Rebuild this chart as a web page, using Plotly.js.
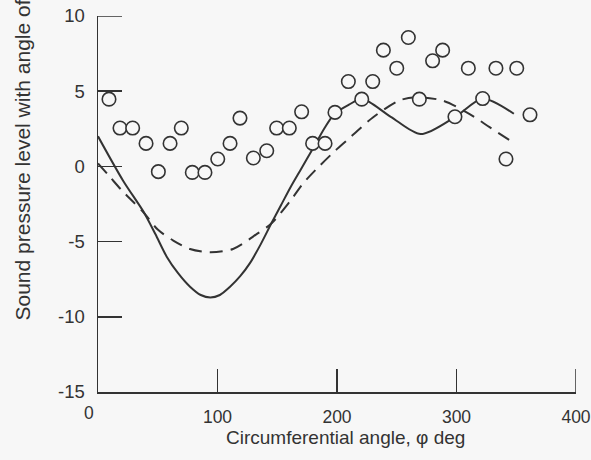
<!DOCTYPE html>
<html><head><meta charset="utf-8">
<script src="https://cdn.plot.ly/plotly-3.0.1.min.js"></script>
<style>html,body{margin:0;padding:0;background:#f7f7f7}</style>
</head><body>
<div id="chart" style="width:591px;height:460px"></div>
<script>
// Measured circles (data)
const circleX = [9.2,18.4,29.0,40.2,50.5,60.3,69.7,78.9,89.5,100.2,110.5,118.8,130,141.2,149.5,160.1,170.4,179.6,190,198.3,209.5,220.7,229.9,238.8,250,259.7,268.9,280,288.4,298.7,309.9,321.9,333,341.4,350.4,361.5];
const circleY = [4.47,2.55,2.55,1.53,-0.35,1.53,2.55,-0.4,-0.4,0.49,1.53,3.21,0.56,1.04,2.55,2.55,3.63,1.53,1.53,3.59,5.64,4.47,5.64,7.73,6.53,8.57,4.47,7.02,7.73,3.3,6.53,4.51,6.53,0.49,6.53,3.43];
// Solid curve
const solidX = [0,21,38,48,57.5,67,77,86,94,102,110.5,119,127,136,145,153,161,169,180,190,198,210,221,245,270,299,322,348];
const solidY = [2.0,-0.95,-3.0,-4.5,-6.0,-7.1,-8.0,-8.55,-8.72,-8.55,-8.0,-7.3,-6.45,-5.2,-3.8,-2.6,-1.4,-0.3,1.2,2.6,3.5,4.1,4.5,3.3,2.15,3.3,4.5,3.5];
// Dashed curve
const dashX = [0,10,20,30,38,50,63,77,94,113,133,145,161,172,185,197,208,230,253,269,289,311,328,345];
const dashY = [0.2,-0.7,-1.6,-2.4,-3.05,-4.2,-4.93,-5.49,-5.71,-5.49,-4.49,-3.8,-2.28,-1.1,0.0,0.93,1.71,3.25,4.41,4.6,4.36,3.48,2.59,1.71];
// Tick labels
const xRange = [0,400];
const yRange = [-15,10];
const xTicks = [100,200,300,400];
const xTickText = ['100','200','300','400'];
const yTicks = [-15,-10,-5,0,5,10];
const yTickText = ['-15','-10','-5','0','5','10'];
const xTitle = "Circumferential angle, φ deg";
const yTitle = "Sound pressure level with angle of";

const ink = '#333';
const bg = '#f7f7f7';
const traces = [
  {x: solidX, y: solidY, mode:'lines', line:{color:ink, width:2, shape:'spline', smoothing:0.8}, hoverinfo:'skip'},
  {x: dashX, y: dashY, mode:'lines', line:{color:ink, width:2, dash:'13px,8px', shape:'spline', smoothing:0.8}, hoverinfo:'skip'},
  {x: circleX, y: circleY, mode:'markers', marker:{symbol:'circle', size:13.5, color:bg, line:{color:ink, width:1.6}}}
];
const fam = '"Liberation Sans", Arial, sans-serif';
const xFont = {family:fam, size:17.5, color:ink};
const yFont = {family:fam, size:18.5, color:ink};
// Plotly drops inside ticks that sit on the range ends; redraw those end ticks
const endTicks = [
  {type:'line', xref:'x', x0:xRange[1], x1:xRange[1], yref:'y', ysizemode:'pixel', yanchor:yRange[0], y0:0, y1:23, line:{color:ink, width:1.5}},
  {type:'line', yref:'y', y0:yRange[1], y1:yRange[1], xref:'x', xsizemode:'pixel', xanchor:xRange[0], x0:0, x1:24, line:{color:ink, width:1.5}}
];
const layout = {
  width:591, height:460,
  margin:{l:98, r:15, t:16, b:68},
  paper_bgcolor:bg, plot_bgcolor:bg,
  showlegend:false,
  font: yFont,
  xaxis:{range:xRange, tickvals:xTicks, ticktext:xTickText, ticks:'inside', ticklen:23, tickwidth:1.5, tickcolor:ink,
         showline:true, linecolor:ink, linewidth:1.5, showgrid:false, zeroline:false,
         ticklabelstandoff:8, ticklabeloverflow:'allow', tickfont:xFont},
  yaxis:{range:yRange, tickvals:yTicks, ticktext:yTickText, ticks:'inside', ticklen:24, tickwidth:1.5, tickcolor:ink,
         showline:true, linecolor:ink, linewidth:1.5, showgrid:false, zeroline:false,
         ticklabelstandoff:8, ticklabeloverflow:'allow', tickfont:yFont},
  shapes: endTicks,
  annotations:[
    {text:'0', xref:'x', x:0, xshift:-9, yref:'paper', y:0, yshift:-21, showarrow:false, font:xFont, xanchor:'center', yanchor:'middle'},
    {text:xTitle, xref:'paper', x:(345-98)/478, yref:'paper', y:(392-437)/376, showarrow:false, font:{family:fam, size:19, color:ink}, xanchor:'center', yanchor:'middle'},
    {text:yTitle, textangle:-90, xref:'paper', x:(22-98)/478, yref:'paper', y:(392-323)/376, showarrow:false, font:{family:fam, size:21, color:ink}, xanchor:'center', yanchor:'bottom'}
  ]
};
Plotly.newPlot('chart', traces, layout, {staticPlot:true});
</script>
</body></html>
